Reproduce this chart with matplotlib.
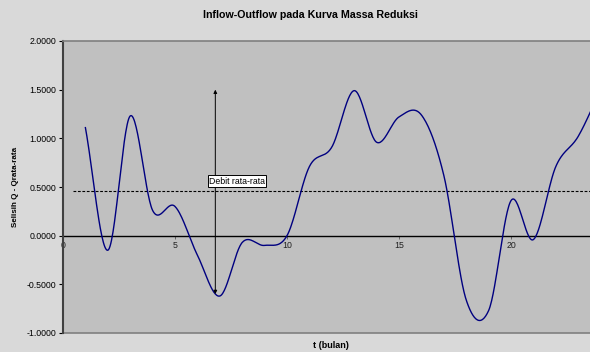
import numpy as np
import matplotlib
matplotlib.use("Agg")
import matplotlib.pyplot as plt

plt.rcParams['font.family'] = ['Liberation Sans', 'DejaVu Sans']

# Data
months = [1, 2, 3, 4, 5, 6, 7, 8, 9, 10, 11, 12, 13, 14, 15, 16, 17, 18, 19, 20, 21, 22, 23, 24]
selisih = [1.11, -0.15, 1.23, 0.26, 0.30, -0.20, -0.62, -0.07, -0.10, 0.00,
           0.71, 0.91, 1.49, 0.96, 1.22, 1.24, 0.62, -0.66, -0.77, 0.36,
           -0.04, 0.71, 1.02, 1.50]
mean_line = 0.46
mean_x = [0.45, 24]
arrow_x = 6.8
arrow_top = 1.5
arrow_bottom = -0.6
yticks = [-1.0, -0.5, 0.0, 0.5, 1.0, 1.5, 2.0]
xticks = [0, 5, 10, 15, 20]
title = "Inflow-Outflow pada Kurva Massa Reduksi"
ylabel = "Selisih Q - Qrata-rata"
xlabel = "t (bulan)"
note = "Debit rata-rata"


def catmull_rom(x, y, n=30):
    x = np.asarray(x, float)
    y = np.asarray(y, float)
    px = np.concatenate([[2 * x[0] - x[1]], x, [2 * x[-1] - x[-2]]])
    py = np.concatenate([[2 * y[0] - y[1]], y, [2 * y[-1] - y[-2]]])
    xs, ys = [], []
    t = np.linspace(0, 1, n, endpoint=False)
    for i in range(1, len(px) - 2):
        for arr, out in ((px, xs), (py, ys)):
            p0, p1, p2, p3 = arr[i - 1], arr[i], arr[i + 1], arr[i + 2]
            out.append(0.5 * ((2 * p1) + (-p0 + p2) * t
                              + (2 * p0 - 5 * p1 + 4 * p2 - p3) * t ** 2
                              + (-p0 + 3 * p1 - 3 * p2 + p3) * t ** 3))
    xs.append([x[-1]])
    ys.append([y[-1]])
    return np.concatenate(xs), np.concatenate(ys)


fig = plt.figure(figsize=(5.9, 3.52), dpi=100)
fig.patch.set_facecolor('#d9d9d9')
ax = fig.add_axes([63 / 590, 1 - 333 / 352, 1 - 63 / 590, (333 - 41) / 352])
ax.set_facecolor('#c0c0c0')

# spines first (set_position resets tick properties)
ax.spines['right'].set_visible(False)
ax.spines['left'].set_color('#404040')
ax.spines['left'].set_linewidth(1.5)
ax.spines['top'].set_color('#808080')
ax.spines['top'].set_linewidth(1.2)
ax.spines['bottom'].set_position(('data', 0))
ax.spines['bottom'].set_visible(False)

sx, sy = catmull_rom(months, selisih)
ax.plot(sx, sy, color='#000080', lw=1.0, zorder=3)
ax.plot(mean_x, [mean_line, mean_line], color='black', lw=0.8, ls=(0, (2.5, 1.5)), zorder=2)
ax.axhline(0, color='black', lw=1.0, zorder=2)
ax.axhline(-1.0, color='#808080', lw=1.2, zorder=1, clip_on=False)

ax.annotate('', xy=(arrow_x, arrow_top), xytext=(arrow_x, arrow_bottom),
            arrowprops=dict(arrowstyle='<|-|>', color='black', lw=0.7,
                            mutation_scale=5, shrinkA=0, shrinkB=0), zorder=4)
ax.text(7.77, 0.56, note, fontsize=6.3, ha='center', va='center', zorder=5,
        bbox=dict(facecolor='white', edgecolor='black', lw=0.7, pad=1.0))

ax.set_xlim(0, (590 - 63) / 22.4)
ax.set_ylim(-1.0, 2.0)
ax.set_yticks(yticks)
ax.set_yticklabels([f"{v:.4f}" for v in yticks], fontsize=6.3)
ax.set_xticks(xticks)
ax.set_xticklabels([str(v) for v in xticks], fontsize=6.3, color='#222222')

ax.tick_params(axis='y', direction='out', length=3, width=0.8, color='black', pad=2)
ax.tick_params(axis='x', direction='out', length=2, width=0.6, color='#555555', pad=2)

fig.text(310 / 590, 1 - 15 / 352, title, fontsize=7.7, fontweight='bold',
         ha='center', va='center')
fig.text(16 / 590, 1 - 187 / 352, ylabel, fontsize=5.8, fontweight='bold',
         rotation=90, ha='center', va='center')
fig.text(331 / 590, 1 - 346 / 352, xlabel, fontsize=6.5, fontweight='bold',
         ha='center', va='center')

fig.savefig('out.png', dpi=100, facecolor=fig.get_facecolor())
